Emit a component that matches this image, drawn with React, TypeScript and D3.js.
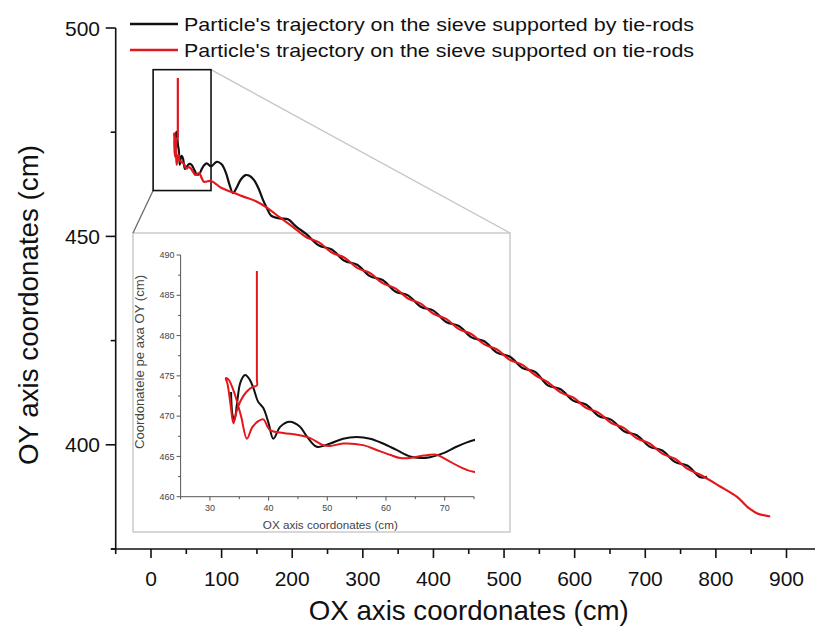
import React from "react";
import * as d3 from "d3";

// ---------- data ----------
const legendLabels = [
  "Particle's trajectory on the sieve supported by tie-rods",
  "Particle's trajectory on the sieve supported on tie-rods",
];
const seriesColors = ["#111111", "#e3171c"];

const xTicks = [0, 100, 200, 300, 400, 500, 600, 700, 800, 900];
const xMinorTicks = [-50, 50, 150, 250, 350, 450, 550, 650, 750, 850];
const yTicks = [400, 450, 500];
const yMinorTicks = [375, 425, 475];

const insetXTicks = [30, 40, 50, 60, 70];
const insetXMinor = [25, 35, 45, 55, 65, 75];
const insetYTicks = [460, 465, 470, 475, 480, 485, 490];
const insetYMinor = [462.5, 467.5, 472.5, 477.5, 482.5, 487.5];

// black: sieve supported by tie-rods
const blackX = [
  33.6, 33.9, 34.2, 34.6, 35.2, 36.0, 36.8, 37.5, 38.2, 39.1, 40.0, 40.8, 42.0, 43.6, 45.3, 46.5, 48.2,
  50.5, 52.7, 55.0, 57.3, 59.5, 61.8, 64.1, 65.8, 67.5, 69.8, 72.0, 74.9,
  79, 85, 93, 100, 106, 111, 116, 121, 127, 134, 140, 146, 152, 158, 164, 170, 182, 194, 206,
  220, 238, 256, 274, 292, 310, 328, 346, 364, 382, 400, 418, 436, 454, 472, 490, 508, 526, 544,
  562, 580, 598, 616, 634, 652, 670, 688, 706, 724, 742, 760, 778, 787.5,
];
const blackY = [
  473.0, 470.0, 469.6, 471.5, 474.2, 475.1, 474.5, 473.3, 471.8, 471.0, 469.1, 467.2, 468.7, 469.3, 468.7, 467.5, 466.2,
  466.6, 467.2, 467.4, 467.2, 466.6, 465.8, 465.0, 464.8, 464.9, 465.4, 466.2, 467.0,
  467.5, 466.8, 467.9, 467.3, 465.3, 462.5, 460.4, 461.6, 463.6, 464.7, 464.5, 463.5, 461.6, 459.0, 456.8, 455.0, 454.3, 454.1, 452.3,
  450.55, 447.81, 446.87, 444.14, 443.2, 440.47, 439.53, 436.79, 435.86, 433.12, 432.19, 429.45, 428.51, 425.78, 424.84, 422.11, 421.17, 418.43, 417.5,
  414.26, 413.33, 410.59, 409.65, 406.92, 405.98, 403.25, 402.31, 399.57, 398.64, 395.9, 394.97, 392.23, 392.3,
];

// red: sieve supported on tie-rods
const redX = [
  38.0, 38.0, 38.0, 37.2, 36.2, 35.3, 34.5, 34.0, 33.5, 33.0, 32.7, 33.2, 34.2, 35.3, 36.3, 37.2, 38.3, 39.1,
  40.2, 42.5, 44.8, 47.0, 49.3, 50.5, 52.7, 56.1, 58.4, 60.7, 62.4, 64.1, 66.4, 68.6, 70.3, 72.6, 74.9,
  85, 100, 115, 130, 148, 165, 182, 200,
  220, 238, 256, 274, 292, 310, 328, 346, 364, 382, 400, 418, 436, 454, 472, 490, 508, 526, 544,
  562, 580, 598, 616, 634, 652, 670, 688, 706, 724, 742, 760, 778, 806, 830, 844, 858, 877,
];
const redY = [
  488.0, 474.6, 473.8, 473.6, 473.0, 472.0, 470.5, 469.1, 471.5, 474.0, 474.7, 474.5, 472.8, 470.0, 467.2, 468.6, 469.4, 469.6,
  468.3, 467.9, 467.7, 467.3, 466.4, 466.3, 466.6, 466.4, 465.8, 465.2, 464.8, 464.8, 465.1, 465.2, 464.6, 463.7, 463.1,
  463.3, 461.6, 460.6, 459.6, 458.5, 456.8, 454.6, 452.4,
  449.8, 448.56, 446.12, 444.89, 442.45, 441.22, 438.78, 437.54, 435.11, 433.87, 431.44, 430.2, 427.76, 426.53, 424.09, 422.86, 420.42, 419.18, 416.75,
  415.01, 412.58, 411.34, 408.9, 407.67, 405.23, 404.0, 401.56, 400.32, 397.89, 396.65, 394.22, 392.8, 390.0, 387.5, 385.2, 383.6, 382.8,
];

// zoomed window drawn in the main plot (data coords)
const zoomBoxX = [3, 85];
const zoomBoxY = [461, 490];

// ---------- layout ----------
const W = 815;
const H = 633;
const FONT = "'Liberation Sans', Arial, Helvetica, sans-serif";

const x = d3.scaleLinear().domain([-50, 950]).range([115.7, 821.8]);
const y = d3.scaleLinear().domain([375, 500]).range([549, 28]);

const ix = d3.scaleLinear().domain([25, 75]).range([180.6, 474]);
const iy = d3.scaleLinear().domain([460, 490]).range([496.7, 255]);

const inset = { x0: 133, y0: 233, x1: 510, y1: 532 };

export default function App() {
  const black = d3.zip(blackX, blackY) as [number, number][];
  const red = d3.zip(redX, redY) as [number, number][];

  const mainLine = d3
    .line<[number, number]>()
    .x((d) => x(d[0]))
    .y((d) => y(d[1]))
    .curve(d3.curveCatmullRom.alpha(0.5));
  const insetLine = d3
    .line<[number, number]>()
    .x((d) => ix(d[0]))
    .y((d) => iy(d[1]))
    .curve(d3.curveCatmullRom.alpha(0.5));

  const zx0 = x(zoomBoxX[0]);
  const zx1 = x(zoomBoxX[1]);
  const zy0 = y(zoomBoxY[1]);
  const zy1 = y(zoomBoxY[0]);

  return (
    <svg
      width={W}
      height={H}
      viewBox={`0 0 ${W} ${H}`}
      style={{ position: "absolute", left: 0, top: 0, background: "#fff" }}
      fontFamily={FONT}
    >
      <defs>
        <clipPath id="insetClip">
          <rect x={ix(25)} y={iy(491)} width={ix(75) - ix(25) + 1} height={iy(459) - iy(491)} />
        </clipPath>
      </defs>
      <rect x={0} y={0} width={W} height={H} fill="#fff" />

      {/* inset */}
      <rect
        x={inset.x0}
        y={inset.y0}
        width={inset.x1 - inset.x0}
        height={inset.y1 - inset.y0}
        fill="#fff"
        stroke="#cfcfcf"
        strokeWidth={1.6}
      />
      {/* connectors */}
      <line x1={zx1} y1={zy0} x2={inset.x1} y2={inset.y0} stroke="#c4c4c4" strokeWidth={1.3} />
      <line x1={zx0} y1={zy1} x2={inset.x0} y2={inset.y0} stroke="#6a6a6a" strokeWidth={1.3} />

      {/* inset axes */}
      <g stroke="#555" strokeWidth={1}>
        <line x1={ix(25)} y1={iy(460)} x2={ix(75)} y2={iy(460)} />
        <line x1={ix(25)} y1={iy(460)} x2={ix(25)} y2={iy(490)} />
        {insetXTicks.map((t) => (
          <line key={"ixt" + t} x1={ix(t)} x2={ix(t)} y1={iy(460)} y2={iy(460) + 4} />
        ))}
        {insetXMinor.map((t) => (
          <line key={"ixm" + t} x1={ix(t)} x2={ix(t)} y1={iy(460)} y2={iy(460) + 2.5} />
        ))}
        {insetYTicks.map((t) => (
          <line key={"iyt" + t} x1={ix(25) - 4} x2={ix(25)} y1={iy(t)} y2={iy(t)} />
        ))}
        {insetYMinor.map((t) => (
          <line key={"iym" + t} x1={ix(25) - 2.5} x2={ix(25)} y1={iy(t)} y2={iy(t)} />
        ))}
      </g>
      <g fill="#444" fontSize={9}>
        {insetXTicks.map((t) => (
          <text key={"ixl" + t} x={ix(t)} y={iy(460) + 14} textAnchor="middle">
            {t}
          </text>
        ))}
        {insetYTicks.map((t) => (
          <text key={"iyl" + t} x={ix(25) - 6} y={iy(t) + 3.2} textAnchor="end">
            {t}
          </text>
        ))}
      </g>
      <text
        x={(ix(25) + ix(75)) / 2 + 3}
        y={529}
        fontSize={11}
        fill="#444"
        textAnchor="middle"
        textLength={135}
        lengthAdjust="spacingAndGlyphs"
      >
        OX axis coordonates (cm)
      </text>
      <text
        transform={`translate(144, 362) rotate(-90)`}
        fontSize={12}
        fill="#444"
        textAnchor="middle"
        textLength={174}
        lengthAdjust="spacingAndGlyphs"
      >
        Coordonatele pe axa OY (cm)
      </text>
      <g clipPath="url(#insetClip)" fill="none" strokeLinejoin="round">
        <path d={insetLine(black) || ""} stroke={seriesColors[0]} strokeWidth={2} />
        <path d={insetLine(red) || ""} stroke={seriesColors[1]} strokeWidth={2} />
      </g>

      {/* zoom box in main plot */}
      <rect x={zx0} y={zy0} width={zx1 - zx0} height={zy1 - zy0} fill="none" stroke="#111" strokeWidth={1.6} />

      {/* main series */}
      <g fill="none" strokeLinejoin="round">
        <path d={mainLine(black) || ""} stroke={seriesColors[0]} strokeWidth={2.2} />
        <path d={mainLine(red) || ""} stroke={seriesColors[1]} strokeWidth={2.2} />
      </g>

      {/* main axes */}
      <g stroke="#111" strokeWidth={1.6}>
        <line x1={111} y1={y(375)} x2={W + 10} y2={y(375)} />
        <line x1={x(-50)} y1={y(500)} x2={x(-50)} y2={y(375)} />
        {xTicks.map((t) => (
          <line key={"xt" + t} x1={x(t)} x2={x(t)} y1={y(375)} y2={y(375) + 9} />
        ))}
        {xMinorTicks.map((t) => (
          <line key={"xm" + t} x1={x(t)} x2={x(t)} y1={y(375)} y2={y(375) + 5} />
        ))}
        {yTicks.map((t) => (
          <line key={"yt" + t} x1={x(-50) - 10} x2={x(-50)} y1={y(t)} y2={y(t)} />
        ))}
        {yMinorTicks.map((t) => (
          <line key={"ym" + t} x1={x(-50) - 5} x2={x(-50)} y1={y(t)} y2={y(t)} />
        ))}
      </g>
      <g fill="#111" fontSize={21}>
        {xTicks.map((t) => (
          <text key={"xl" + t} x={x(t)} y={586} textAnchor="middle">
            {t}
          </text>
        ))}
        {yTicks.map((t) => (
          <text key={"yl" + t} x={100} y={y(t) + 7.5} textAnchor="end">
            {t}
          </text>
        ))}
      </g>
      <text
        x={(x(-50) + x(950)) / 2}
        y={620}
        fontSize={28}
        fill="#111"
        textAnchor="middle"
        textLength={320}
        lengthAdjust="spacingAndGlyphs"
      >
        OX axis coordonates (cm)
      </text>
      <text
        transform={`translate(38, 305) rotate(-90)`}
        fontSize={28}
        fill="#111"
        textAnchor="middle"
        textLength={320}
        lengthAdjust="spacingAndGlyphs"
      >
        OY axis coordonates (cm)
      </text>

      {/* legend */}
      {legendLabels.map((lab, i) => (
        <g key={"lg" + i}>
          <line x1={130} x2={178} y1={24 + i * 26} y2={24 + i * 26} stroke={seriesColors[i]} strokeWidth={2.4} />
          <text
            x={184}
            y={24 + i * 26 + 6.5}
            fontSize={19}
            fill="#111"
            textLength={510}
            lengthAdjust="spacingAndGlyphs"
          >
            {lab}
          </text>
        </g>
      ))}
    </svg>
  );
}
